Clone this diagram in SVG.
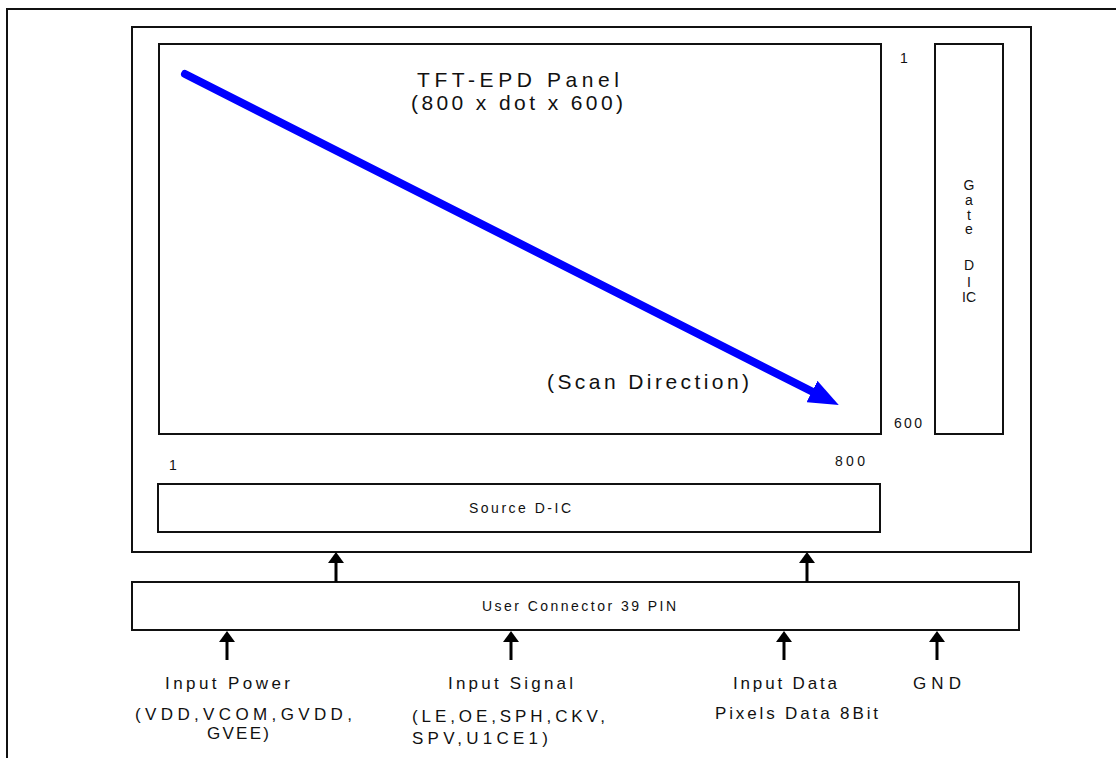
<svg xmlns="http://www.w3.org/2000/svg" width="1116" height="758" viewBox="0 0 1116 758">
<style>
.box{fill:#fff;stroke:#111;stroke-width:2}
.t{font-family:"Liberation Sans",Arial,sans-serif;fill:#111}
.big{font-size:21px}
.mid{font-size:17px}
.sm{font-size:14px}
.wire{stroke:#000;stroke-width:3;fill:none}
.scan{stroke:#0000ff;stroke-width:8;fill:none;stroke-linecap:round}
</style>
<defs>
<marker id="ah" markerUnits="userSpaceOnUse" viewBox="0 0 11 16" markerWidth="11" markerHeight="16" refX="0" refY="8" orient="auto">
<path d="M0,0 L11,8 L0,16 Z" fill="#000"/>
</marker>
<marker id="bh" markerUnits="userSpaceOnUse" viewBox="0 0 30 24" markerWidth="30" markerHeight="24" refX="0" refY="12" orient="auto">
<path d="M0,0 L30,12 L0,24 Z" fill="#0000ff"/>
</marker>
</defs>
<rect width="1116" height="758" fill="#fff"/>
<g id="frame"><path d="M7,758 V9 H1116" fill="none" stroke="#111" stroke-width="2"/></g>
<g id="module"><rect class="box" x="132" y="27" width="899" height="525"/></g>
<g id="panel">
<rect class="box" x="159" y="44" width="722" height="390"/>
<text class="t big" x="417" y="87" textLength="202" lengthAdjust="spacing">TFT-EPD Panel</text>
<text class="t big" x="411" y="110" textLength="212" lengthAdjust="spacing">(800 x dot x 600)</text>
<text class="t big" x="547" y="389" textLength="202" lengthAdjust="spacing">(Scan Direction)</text>
<text class="t sm" x="900" y="63">1</text>
<text class="t sm" x="894" y="428" textLength="28" lengthAdjust="spacing">600</text>
<text class="t sm" x="169" y="470">1</text>
<text class="t sm" x="835" y="466" textLength="30" lengthAdjust="spacing">800</text>
</g>
<g id="gate">
<rect class="box" x="935" y="44" width="68" height="390"/>
<g class="t sm" text-anchor="middle">
<text x="969" y="190">G</text>
<text x="969" y="205">a</text>
<text x="969" y="220">t</text>
<text x="969" y="234">e</text>
<text x="969" y="270">D</text>
<text x="969" y="287">I</text>
<text x="969" y="302">IC</text>
</g>
</g>
<g id="source">
<rect class="box" x="158" y="484" width="722" height="48"/>
<text class="t sm" x="469" y="513" textLength="102" lengthAdjust="spacing">Source D-IC</text>
</g>
<g id="connector">
<rect class="box" x="132" y="582" width="887" height="48"/>
<text class="t sm" x="482" y="611" textLength="194" lengthAdjust="spacing">User Connector 39 PIN</text>
</g>
<g id="power">
<text class="t mid" x="165" y="689" textLength="125" lengthAdjust="spacing">Input Power</text>
<text class="t mid" x="135" y="720" textLength="217" lengthAdjust="spacing">(VDD,VCOM,GVDD,</text>
<text class="t mid" x="207" y="739" textLength="62" lengthAdjust="spacing">GVEE)</text>
</g>
<g id="signal">
<text class="t mid" x="448" y="689" textLength="125" lengthAdjust="spacing">Input Signal</text>
<text class="t mid" x="412" y="722" textLength="193" lengthAdjust="spacing">(LE,OE,SPH,CKV,</text>
<text class="t mid" x="412" y="744" textLength="136" lengthAdjust="spacing">SPV,U1CE1)</text>
</g>
<g id="data">
<text class="t mid" x="733" y="689" textLength="104" lengthAdjust="spacing">Input Data</text>
<text class="t mid" x="715" y="719" textLength="163" lengthAdjust="spacing">Pixels Data 8Bit</text>
</g>
<g id="gnd">
<text class="t mid" x="913" y="689" textLength="48" lengthAdjust="spacing">GND</text>
</g>
<g id="connectors">
<line class="scan" x1="185" y1="74" x2="812" y2="391.5" marker-end="url(#bh)"/>
<line class="wire" x1="336" y1="582" x2="336" y2="563" marker-end="url(#ah)"/>
<line class="wire" x1="807" y1="582" x2="807" y2="563" marker-end="url(#ah)"/>
<line class="wire" x1="227" y1="660" x2="227" y2="642" marker-end="url(#ah)"/>
<line class="wire" x1="511" y1="660" x2="511" y2="642" marker-end="url(#ah)"/>
<line class="wire" x1="784" y1="660" x2="784" y2="642" marker-end="url(#ah)"/>
<line class="wire" x1="937" y1="660" x2="937" y2="642" marker-end="url(#ah)"/>
</g>
</svg>
